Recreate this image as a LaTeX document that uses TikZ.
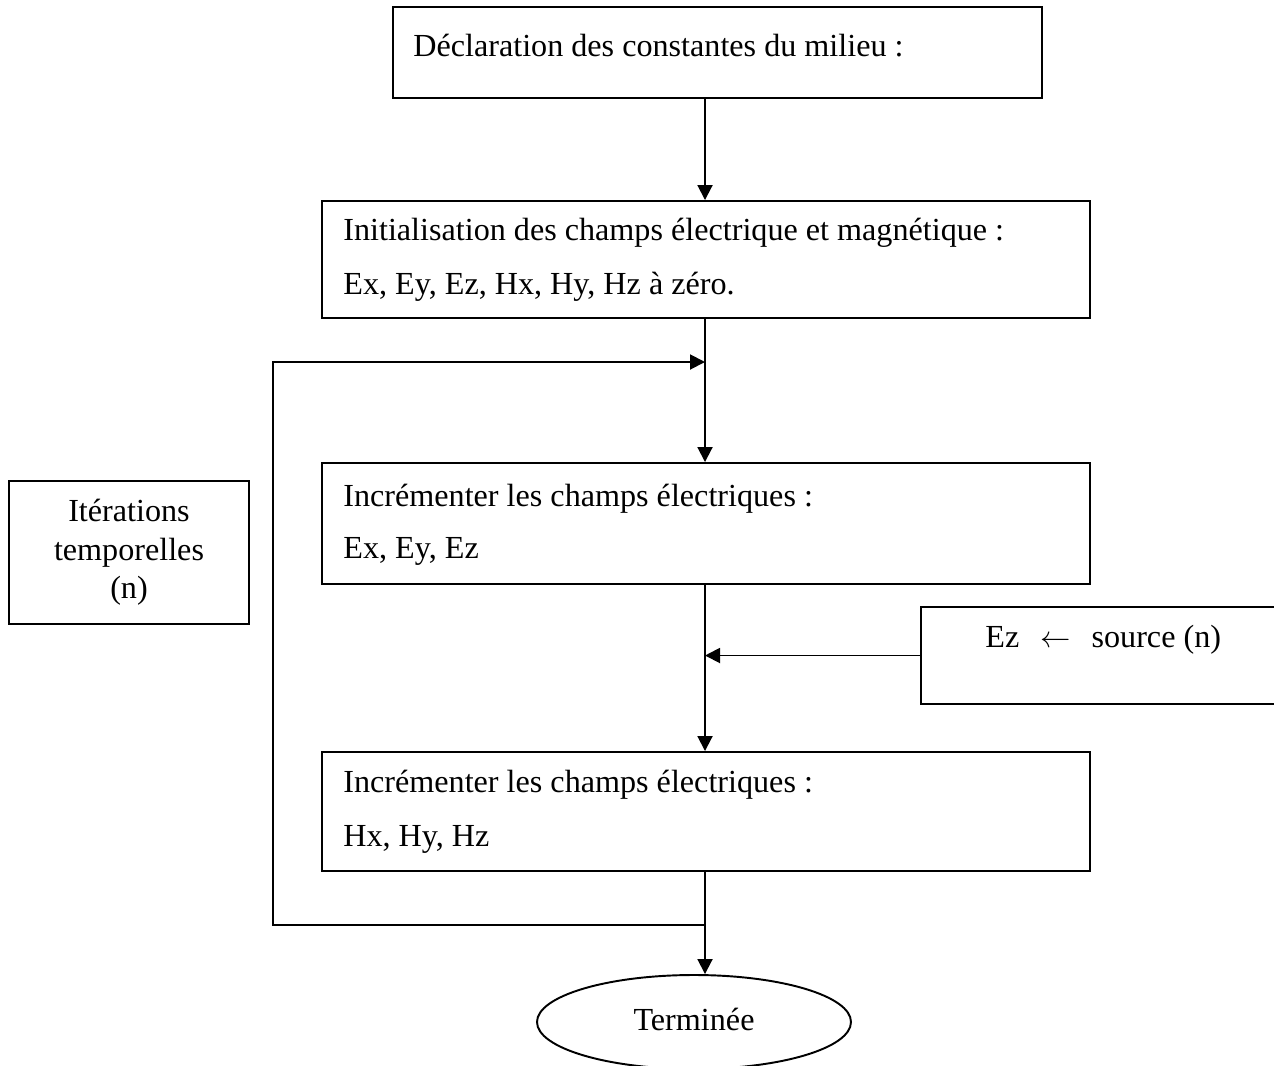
\documentclass[tikz,border=0pt]{standalone}
\usepackage{fontspec}
\setmainfont{Liberation Serif}
\usetikzlibrary{arrows.meta,shapes.geometric}
\tikzset{
  box/.style={draw, line width=1.1pt, inner sep=0pt, rectangle},
  txt/.style={anchor=base west, inner sep=0pt},
  conn/.style={line width=1.1pt, -{Triangle[length=0.3cm,width=0.3cm]}},
  every node/.style={font=\fontsize{18.3}{21.8}\selectfont}
}
\begin{document}
\begin{tikzpicture}[x=0.02cm,y=-0.02cm]
\useasboundingbox (0,0) rectangle (1274,1065);
% boxes
\node[box, minimum width={649*0.02cm}, minimum height={91*0.02cm}] (b1) at (717.5,52.5) {};
\node[box, minimum width={768*0.02cm}, minimum height={117*0.02cm}] (b2) at (706,259.5) {};
\node[box, minimum width={768*0.02cm}, minimum height={121*0.02cm}] (b3) at (706,523.5) {};
\node[box, minimum width={768*0.02cm}, minimum height={119*0.02cm}] (b4) at (706,811.5) {};
\node[box, minimum width={369*0.02cm}, minimum height={97*0.02cm}] (src) at (1105.5,655.5) {};
\node[box, minimum width={240*0.02cm}, minimum height={143*0.02cm}, align=center] (it) at (129,552.5) {Itérations\\temporelles\\(n)};
\node[draw, ellipse, line width=1.1pt, inner sep=0pt, minimum width={314*0.02cm}, minimum height={94*0.02cm}] (ell) at (694,1022) {\raisebox{0.1cm}{Terminée}};
% texts
\node[txt] (t1) at (413,56) {Déclaration des constantes du milieu :};
\node[txt] (t2a) at (343,240) {Initialisation des champs électrique et magnétique :};
\node[txt] (t2b) at (343,294) {Ex, Ey, Ez, Hx, Hy, Hz à zéro.};
\node[txt] (t3a) at (343,506) {Incrémenter les champs électriques :};
\node[txt] (t3b) at (343,558) {Ex, Ey, Ez};
\node[txt] (t4a) at (343,792) {Incrémenter les champs électriques :};
\node[txt] (t4b) at (343,846) {Hx, Hy, Hz};
\node[txt] (ts) at (985,647) {Ez\hspace{0.42cm}$\leftarrow$\hspace{0.42cm}source (n)};
% connectors
\coordinate (sp) at (705,0);
\coordinate (lt) at (705,362);
\coordinate (lb) at (705,925);
\coordinate (lc) at (273,925);
\draw[conn] (sp |- b1.south) -- (sp |- b2.north);
\draw[conn] (sp |- b2.south) -- (sp |- b3.north);
\draw[conn] (sp |- b3.south) -- (sp |- b4.north);
\draw[conn] (src.west) -- (sp |- src.west);
\draw[conn] (sp |- b4.south) -- (sp |- ell.north);
\draw[conn] (lb) -- (lc) |- (lt);
\end{tikzpicture}
\end{document}
